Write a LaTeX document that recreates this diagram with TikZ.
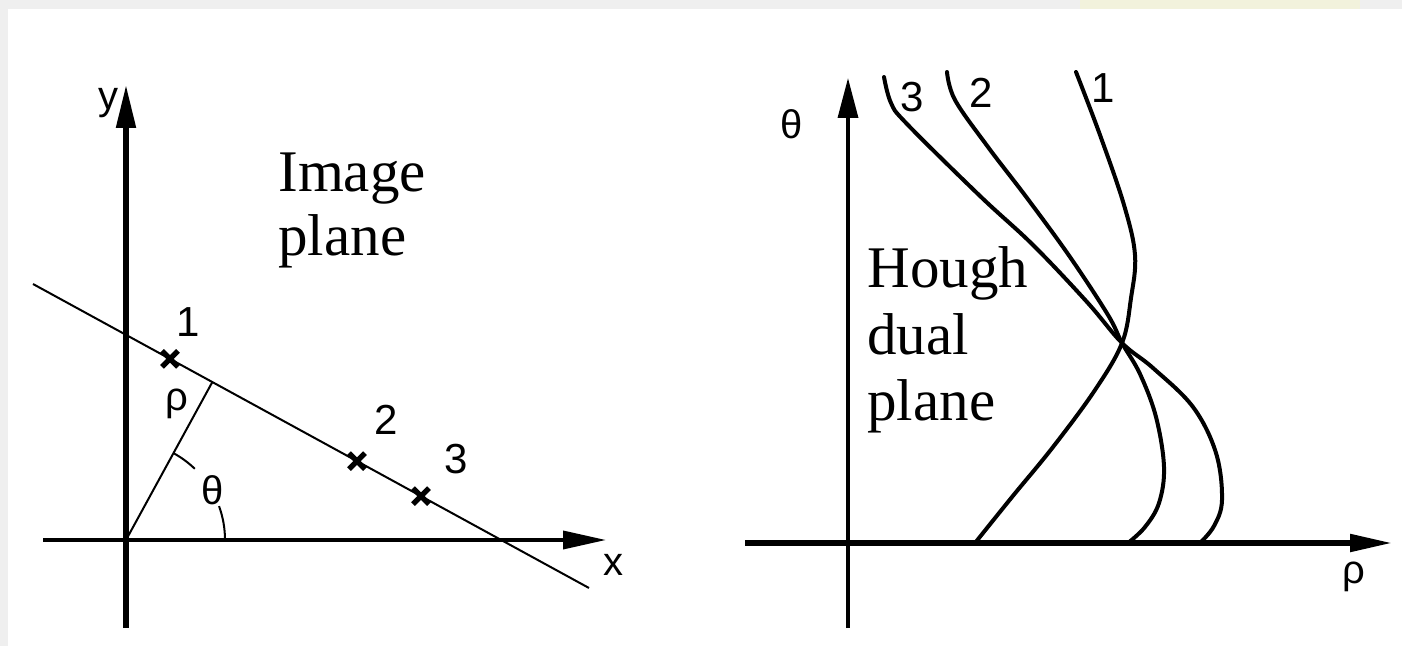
\documentclass[tikz,border=0pt]{standalone}
\usepackage{fontspec}
\setmainfont{Liberation Serif}
\newfontfamily\labfont{Liberation Sans}
\usetikzlibrary{arrows.meta,calc}
\definecolor{margin}{HTML}{EFEFEF}
\definecolor{glow}{HTML}{F2F2DC}
\tikzset{
  thickaxis/.style={line width=2.6pt,-{Triangle[length=21.5pt,width=9.5pt]}},
  thinaxis/.style={line width=1.7pt,-{Triangle[length=20pt,width=10pt]}},
  plainaxis/.style={line width=2.8pt},
  thinline/.style={line width=1pt},
  curve/.style={line width=2pt,line join=round,line cap=round},
  crossmark/.style={line width=2.6pt},
  axlabel/.style={inner sep=0pt,font=\labfont\fontsize{20}{20}\selectfont},
  numlabel/.style={inner sep=0pt,font=\labfont\fontsize{21}{21}\selectfont},
  bigtext/.style={inner sep=0pt,anchor=base west,font=\fontsize{29.5}{33}\selectfont}
}
\begin{document}
\begin{tikzpicture}[x=0.5pt,y=-0.5pt]
\useasboundingbox (0,0) rectangle (1402,646);
\fill[margin] (0,0) rectangle (1402,646);
\fill[glow] (1080,0) rectangle (1360,9);
\fill[white] (8,9) rectangle (1402,646);

% ---------------- left panel: image plane
\coordinate (O) at (126,540);
\coordinate (ytop) at (126,85);
\coordinate (ybot) at (126,628);
\coordinate (xleft) at (43,540);
\coordinate (xright) at (606,540);
\draw[plainaxis] (O) -- (ybot);
\draw[thickaxis] (O) -- (ytop);
\draw[line width=1.8pt,-{Triangle[length=21.5pt,width=9pt]}] (xleft) -- (xright);

\coordinate (A) at (33,284);
\coordinate (B) at (589,588);
\draw[thinline] (A) -- (B);
\coordinate (F) at ($(A)!(O)!(B)$);
\draw[thinline] (O) -- (F);
\draw[thinline] ($(O)+(-61.35:99)$) arc[start angle=-61.35,end angle=-46,radius=99];
\draw[thinline] ($(O)+(-20:99)$) arc[start angle=-20,end angle=0,radius=99];

\coordinate (p1) at ($(A)!0.2464!(B)$);
\coordinate (p2) at ($(A)!0.5827!(B)$);
\coordinate (p3) at ($(A)!0.6978!(B)$);
\foreach \p in {p1,p2,p3}{
  \draw[crossmark] ($(\p)+(-8,-8)$) -- ($(\p)+(8,8)$);
  \draw[crossmark] ($(\p)+(-8,8)$) -- ($(\p)+(8,-8)$);
}
\node[numlabel] (n1) at (188,322) {1};
\node[numlabel] (n2) at (386,420) {2};
\node[numlabel] (n3) at (456,459) {3};
\node[axlabel] (rho1) at (177,404) {ρ};
\node[axlabel] (th1) at (213,490) {θ};
\node[axlabel] (xl) at (613,565) {x};
\node[axlabel] (yl) at (108,103) {y};

\node[bigtext] (im1) at (278,192) {Image};
\node[bigtext] (im2) at (278,256) {plane};

% ---------------- right panel: Hough dual plane
\coordinate (Q) at (848,543);
\coordinate (ttop) at (848,78);
\coordinate (tbot) at (848,628);
\coordinate (rleft) at (745,543);
\coordinate (rright) at (1392,543);
\draw[thinaxis] (tbot) -- (ttop);
\draw[line width=2.6pt,-{Triangle[length=21pt,width=8.5pt]}] (rleft) -- (rright);

\node[axlabel] (th2) at (792,124) {θ};
\node[axlabel] (rho2) at (1354,577) {ρ};
\node[numlabel] (m3) at (912,97) {3};
\node[numlabel] (m2) at (981,93) {2};
\node[numlabel] (m1) at (1103,88) {1};

\draw[curve] plot[smooth,tension=0.6] coordinates {
  (1076,72) (1100,135) (1124,205) (1135,255) (1131,298) (1122,343)
  (1095,390) (1053,447) (1012,497) (975,543)};
\draw[curve] plot[smooth,tension=0.6] coordinates {
  (947,72) (955,100) (988,147) (1027,198) (1070,257) (1108,315) (1122,343)
  (1140,374) (1156,417) (1164,467) (1159,503) (1145,527) (1128,543)};
\draw[curve] plot[smooth,tension=0.6] coordinates {
  (884,77) (891,103) (907,124) (980,196) (1033,245) (1087,302) (1122,343)
  (1153,368) (1193,407) (1216,453) (1222,500) (1214,526) (1200,543)};

\node[bigtext] (h1) at (867,288) {Hough};
\node[bigtext] (h2) at (867,355) {dual};
\node[bigtext] (h3) at (867,421) {plane};
\end{tikzpicture}
\end{document}
